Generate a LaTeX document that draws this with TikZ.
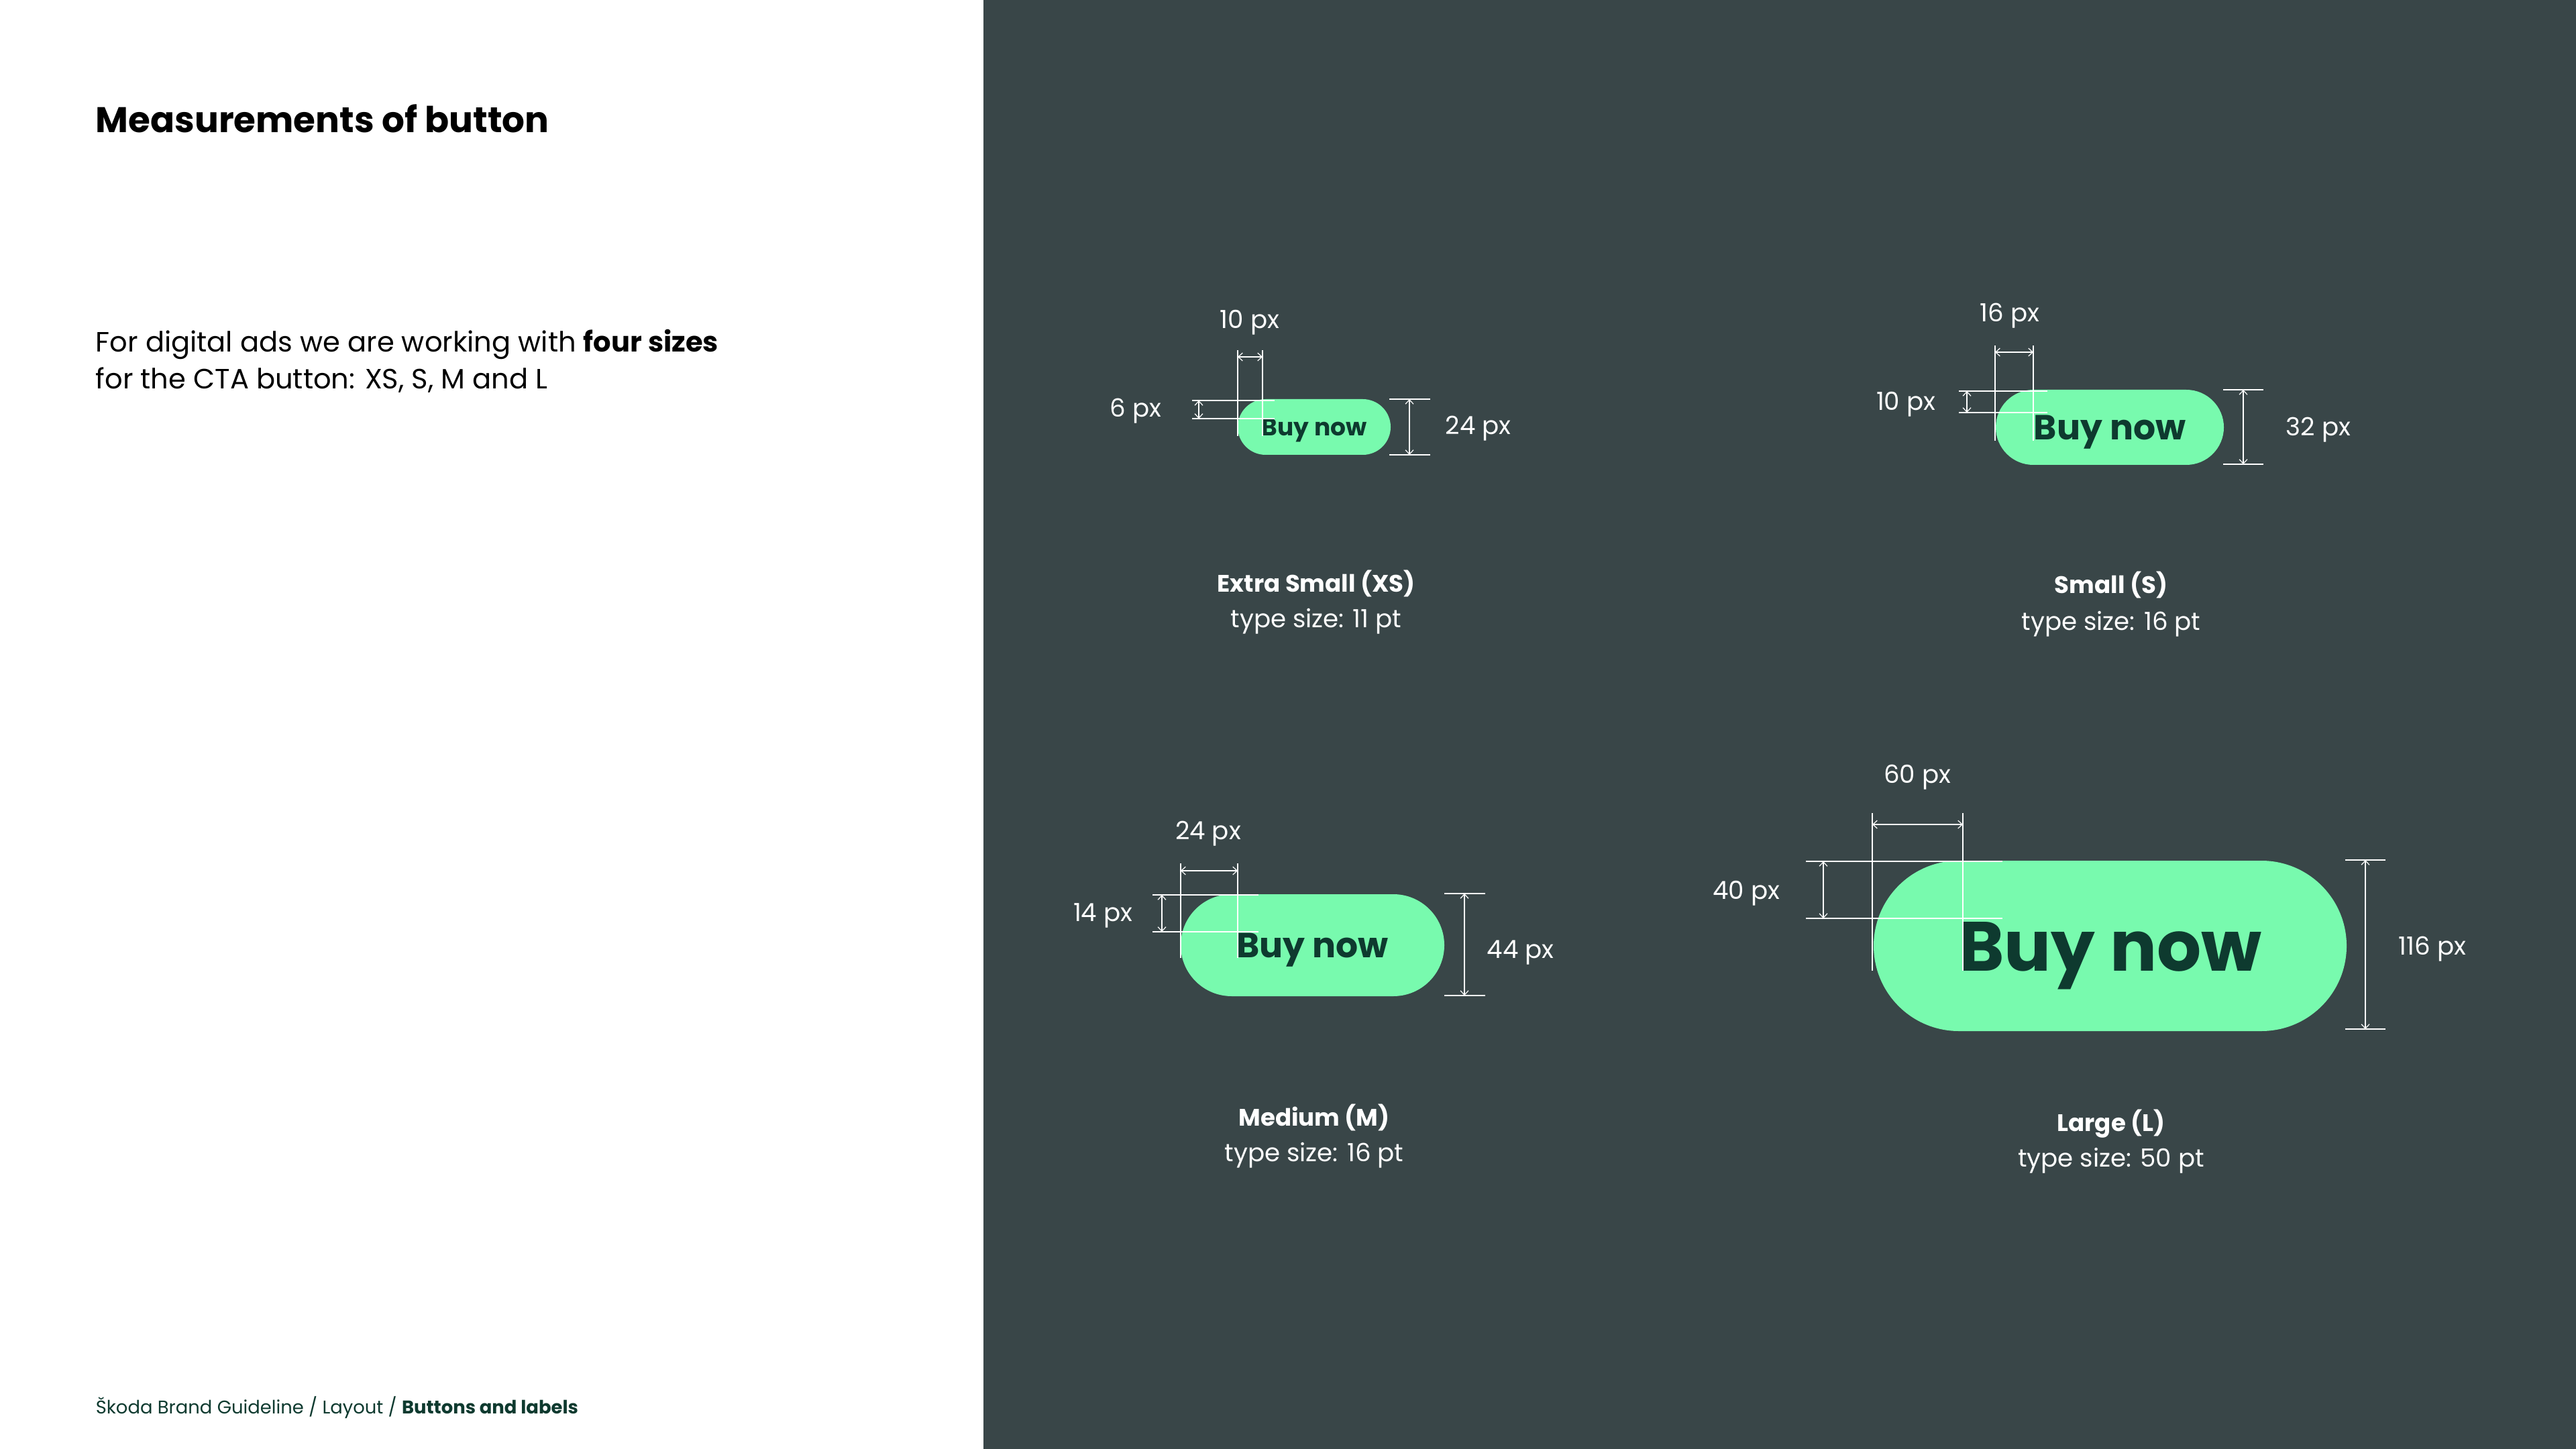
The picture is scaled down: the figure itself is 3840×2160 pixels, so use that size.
\documentclass[tikz,border=0pt]{standalone}
\usepackage{fontspec}
\setmainfont{Poppins}
\usetikzlibrary{shapes.misc,arrows.meta}

\definecolor{panel}{HTML}{394648}
\definecolor{electric}{HTML}{78FAAE}
\definecolor{emerald}{HTML}{0E3A2F}

\tikzset{
  btn/.style={rounded rectangle, fill=electric, text=emerald, inner sep=0pt, text depth=0pt},
  dimline/.style={draw=white, line width=0.3pt},
  dimarrow/.style={draw=white, line width=0.3pt, {Straight Barb[length=1.6pt,width=3pt]}-{Straight Barb[length=1.6pt,width=3pt]}},
  dimtick/.style={draw=white, line width=0.6pt},
  dimlabel/.style={text=white, inner sep=0pt, font=\fontsize{9.3}{11}\selectfont},
  sizename/.style={text=white, inner sep=0pt, font=\fontsize{8.9}{11}\selectfont\bfseries},
  sizetype/.style={text=white, inner sep=0pt, font=\fontsize{9.3}{11}\selectfont}
}

\begin{document}
\begin{tikzpicture}[x=0.25pt,y=0.25pt,yscale=-1,xscale=1]
\useasboundingbox (0,0) rectangle (3840,2160);

%Shape: Rectangle
\fill[white] (0,0) rectangle (3840,2160);
%Shape: Rectangle
\fill[panel] (1466,0) rectangle (3840,2160);

% Text Node
\node[anchor=base west, inner sep=0pt, font=\fontsize{13.3}{16}\selectfont\bfseries] (title) at (142,198) {Measurements of button};
% Text Node
\node[anchor=base west, inner sep=0pt, font=\fontsize{10.4}{13}\selectfont] (introa) at (142,525) {For digital ads we are working with \textbf{four sizes}};
% Text Node
\node[anchor=base west, inner sep=0pt, font=\fontsize{10.4}{13}\selectfont] (introb) at (142,580) {for the CTA button: XS, S, M and L};
% Text Node
\node[anchor=base west, inner sep=0pt, text=emerald, font=\fontsize{6.85}{8}\selectfont] (footer) at (142,2107) {Škoda Brand Guideline / Layout / \textbf{Buttons and labels}};

%Shape: Button XS
\node[btn, minimum width=57pt, minimum height=20.75pt, text height=6.3pt, font=\fontsize{9}{9}\selectfont\bfseries] (xs) at (1959,636.5) {Buy now};
%Straight Lines
\draw[dimline] (1845,522) -- (1845,650);
\draw[dimline] (1882,522) -- (1882,650);
\draw[dimarrow] (1845,532) -- (1882,532);
%Straight Lines
\draw[dimline] (1777,597) -- (1900,597);
\draw[dimline] (1777,624) -- (1900,624);
\draw[dimarrow] (1787,597) -- (1787,624);
%Straight Lines
\draw[dimtick] (2071,595) -- (2132,595);
\draw[dimtick] (2071,678) -- (2132,678);
\draw[dimarrow] (2101,595) -- (2101,678);
% Text Node
\node[dimlabel, anchor=base] (xsw) at (1863,490) {10 px};
\node[dimlabel, anchor=base east] (xsp) at (1732,622) {6 px};
\node[dimlabel, anchor=base west] (xsh) at (2154,648) {24 px};
\node[sizename, anchor=base] (xsname) at (1962,882) {Extra Small (XS)};
\node[sizetype, anchor=base] (xstype) at (1962,935) {type size: 11 pt};

%Shape: Button S
\node[btn, minimum width=85pt, minimum height=28pt, text height=9.1pt, font=\fontsize{13}{13}\selectfont\bfseries] (s) at (3145,637) {Buy now};
%Straight Lines
\draw[dimline] (2974,515) -- (2974,657);
\draw[dimline] (3031,515) -- (3031,657);
\draw[dimarrow] (2974,525) -- (3031,525);
%Straight Lines
\draw[dimline] (2920,583) -- (3052,583);
\draw[dimline] (2920,615) -- (3052,615);
\draw[dimarrow] (2932,583) -- (2932,615);
%Straight Lines
\draw[dimtick] (3314,581) -- (3374,581);
\draw[dimtick] (3314,692) -- (3374,692);
\draw[dimarrow] (3344,581) -- (3344,692);
% Text Node
\node[dimlabel, anchor=base] (sw) at (2996,480) {16 px};
\node[dimlabel, anchor=base east] (sp) at (2886,612) {10 px};
\node[dimlabel, anchor=base west] (sh) at (3407,650) {32 px};
\node[sizename, anchor=base] (sname) at (3147,884) {Small (S)};
\node[sizetype, anchor=base] (stype) at (3147,939) {type size: 16 pt};

%Shape: Button M
\node[btn, minimum width=98.25pt, minimum height=38pt, text height=9.1pt, font=\fontsize{13}{13}\selectfont\bfseries] (m) at (1956.5,1409) {Buy now};
%Straight Lines
\draw[dimline] (1760,1287) -- (1760,1428);
\draw[dimline] (1845,1287) -- (1845,1428);
\draw[dimarrow] (1760,1298) -- (1845,1298);
%Straight Lines
\draw[dimline] (1718,1334) -- (1876,1334);
\draw[dimline] (1718,1389) -- (1876,1389);
\draw[dimarrow] (1732,1334) -- (1732,1389);
%Straight Lines
\draw[dimtick] (2153,1332) -- (2214,1332);
\draw[dimtick] (2153,1484) -- (2214,1484);
\draw[dimarrow] (2183,1332) -- (2183,1484);
% Text Node
\node[dimlabel, anchor=base] (mw) at (1801,1251) {24 px};
\node[dimlabel, anchor=base east] (mp) at (1689,1373) {14 px};
\node[dimlabel, anchor=base west] (mh) at (2216,1428) {44 px};
\node[sizename, anchor=base] (mname) at (1959,1678) {Medium (M)};
\node[sizetype, anchor=base] (mtype) at (1959,1731) {type size: 16 pt};

%Shape: Button L
\node[btn, minimum width=176.25pt, minimum height=63.5pt, text height=18.5pt, font=\fontsize{26}{26}\selectfont\bfseries] (l) at (3145.5,1410) {Buy now};
%Straight Lines
\draw[dimline] (2791,1212) -- (2791,1447);
\draw[dimline] (2926,1212) -- (2926,1447);
\draw[dimarrow] (2791,1229) -- (2926,1229);
%Straight Lines
\draw[dimline] (2692,1284) -- (2985,1284);
\draw[dimline] (2692,1369) -- (2985,1369);
\draw[dimarrow] (2718,1284) -- (2718,1369);
%Straight Lines
\draw[dimtick] (3496,1282) -- (3556,1282);
\draw[dimtick] (3496,1534) -- (3556,1534);
\draw[dimarrow] (3526,1282) -- (3526,1534);
% Text Node
\node[dimlabel, anchor=base] (lw) at (2858,1167) {60 px};
\node[dimlabel, anchor=base east] (lp) at (2654,1340) {40 px};
\node[dimlabel, anchor=base west] (lh) at (3575,1423) {116 px};
\node[sizename, anchor=base] (lname) at (3147,1686) {Large (L)};
\node[sizetype, anchor=base] (ltype) at (3147,1739) {type size: 50 pt};

\end{tikzpicture}
\end{document}
